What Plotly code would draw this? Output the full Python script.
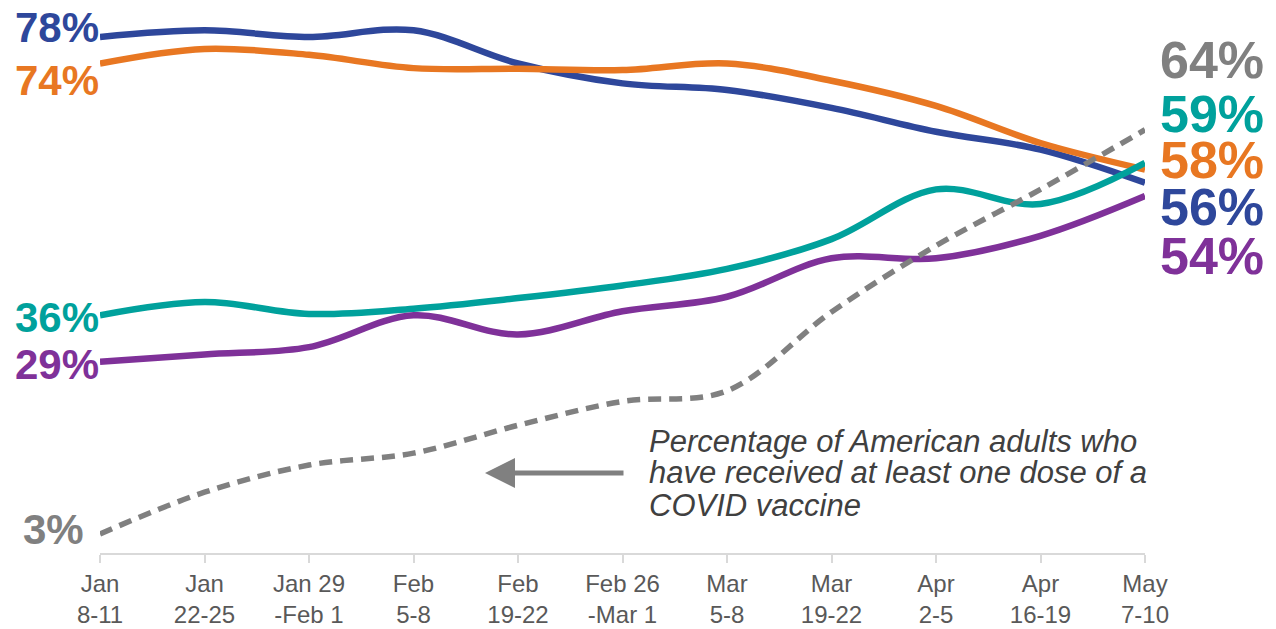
import plotly.graph_objects as go

# Survey waves (x axis)
categories = [
    "Jan<br>8-11", "Jan<br>22-25", "Jan 29<br>-Feb 1", "Feb<br>5-8", "Feb<br>19-22",
    "Feb 26<br>-Mar 1", "Mar<br>5-8", "Mar<br>19-22", "Apr<br>2-5", "Apr<br>16-19", "May<br>7-10",
]

# Series values (%)
blue_vals = [78, 79, 78, 79, 74, 71, 70, 67.3, 63.7, 61, 56]
orange_vals = [74, 76.2, 75.3, 73.3, 73.2, 73, 74, 71.4, 67.6, 62, 58]
teal_vals = [36, 38, 36.2, 37, 38.6, 40.5, 43, 47.5, 55, 52.8, 59]
purple_vals = [29, 30.1, 31.2, 36, 33.1, 36.6, 38.8, 44.6, 44.6, 48, 54]
vaccine_vals = [3, 9.3, 13.4, 15.2, 19.4, 23, 24.6, 36.5, 46.5, 55, 64]

BLUE = "#2E479B"
ORANGE = "#E87722"
TEAL = "#00A19C"
PURPLE = "#7F3199"
GRAY = "#808080"

# (values, colour, dash, left label x/y shift px, right label y shift px)
series = [
    (blue_vals, BLUE, None, (1, 9), -24),
    (orange_vals, ORANGE, None, (1, -17), 10),
    (teal_vals, TEAL, None, (1, -2), 49),
    (purple_vals, PURPLE, None, (1, -3), -60),
    (vaccine_vals, GRAY, "13px,8px", (-14, 4), 70),
]

PLOT_LEFT, PLOT_WIDTH = 100, 1045
PLOT_TOP, PLOT_BOTTOM = 10, 553
PLOT_HEIGHT = PLOT_BOTTOM - PLOT_TOP

fig = go.Figure()
annotations = []
label_font = "Liberation Sans, Arial, sans-serif"

for vals, color, dash, (left_dx, left_dy), right_dy in series:
    fig.add_trace(go.Scatter(
        x=categories, y=vals, mode="lines",
        line=dict(color=color, width=5.5 if dash else 6.5, shape="spline",
                  dash=dash if dash else "solid"),
        hoverinfo="skip", showlegend=False,
    ))
    annotations.append(dict(
        x=categories[0], y=vals[0], xref="x", yref="y", text=f"<b>{vals[0]:g}%</b>",
        showarrow=False, xanchor="right", yanchor="middle", xshift=left_dx, yshift=left_dy,
        font=dict(family=label_font, size=42, color=color),
    ))
    annotations.append(dict(
        x=categories[-1], y=vals[-1], xref="x", yref="y", text=f"<b>{vals[-1]:g}%</b>",
        showarrow=False, xanchor="left", yanchor="middle", xshift=13, yshift=right_dy,
        font=dict(family=label_font, size=52, color=color),
    ))


def paper_x(px):
    return (px - PLOT_LEFT) / PLOT_WIDTH


def paper_y(py):
    return (PLOT_BOTTOM - py) / PLOT_HEIGHT


# Note about the dashed line, one annotation per text line
note_lines = [
    "Percentage of American adults who",
    "have received at least one dose of a",
    "COVID vaccine",
]
for i, line in enumerate(note_lines):
    annotations.append(dict(
        x=paper_x(647), y=paper_y(441 + 32 * i), xref="paper", yref="paper",
        text=f"<i>{line}</i>", showarrow=False, xanchor="left", yanchor="middle",
        font=dict(family=label_font, size=31, color="#404040"),
    ))

# Arrow pointing at the dashed line
annotations.append(dict(
    x=paper_x(485), y=paper_y(473), xref="paper", yref="paper",
    text="", showarrow=True, ax=140, ay=0, arrowhead=2, arrowsize=1.2,
    arrowwidth=5, arrowcolor=GRAY,
))

fig.update_layout(
    width=1276, height=629,
    margin=dict(l=PLOT_LEFT, r=1276 - PLOT_LEFT - PLOT_WIDTH, t=PLOT_TOP,
                b=629 - PLOT_BOTTOM),
    paper_bgcolor="white", plot_bgcolor="white",
    annotations=annotations,
    xaxis=dict(
        type="category", range=[0, 10], showgrid=False, zeroline=False, automargin=False,
        showline=True, linecolor="#D9D9D9", linewidth=2,
        ticks="outside", ticklen=8, tickwidth=2, tickcolor="#D9D9D9",
        tickfont=dict(family=label_font, size=24, color="#595959"),
    ),
    yaxis=dict(range=[0.13, 82.07], visible=False, showgrid=False, zeroline=False,
               automargin=False),
)

fig.write_html("out.html")
